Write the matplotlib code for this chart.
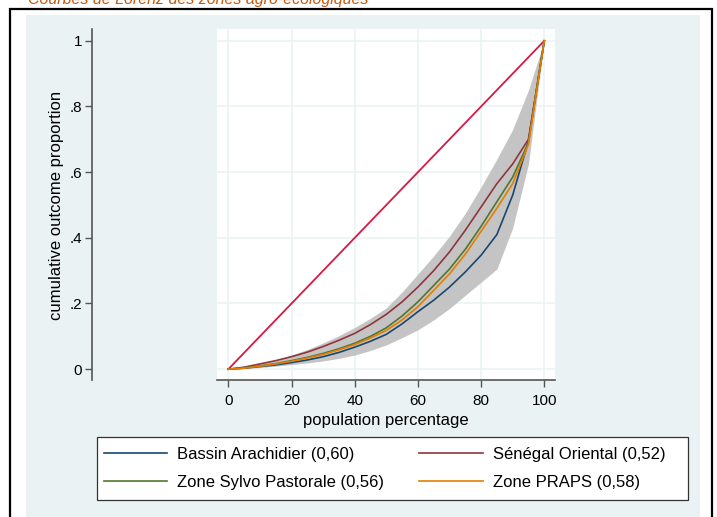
import matplotlib
matplotlib.use("Agg")
from matplotlib import pyplot as plt
from matplotlib.patches import Rectangle

plt.rcParams['font.family'] = ['Liberation Sans', 'DejaVu Sans']

# population share (%) at which each curve was read
pop = [0, 5, 10, 15, 20, 25, 30, 35, 40, 45, 50, 55, 60, 65, 70, 75, 80, 85, 90, 95, 100]

bassin = [0, 0.003, 0.008, 0.013, 0.020, 0.028, 0.038, 0.051, 0.067, 0.085, 0.106,
          0.138, 0.175, 0.210, 0.250, 0.296, 0.347, 0.410, 0.530, 0.695, 1.0]
senegal = [0, 0.006, 0.016, 0.026, 0.038, 0.052, 0.069, 0.088, 0.109, 0.136, 0.167,
           0.205, 0.250, 0.300, 0.357, 0.423, 0.494, 0.565, 0.625, 0.700, 1.0]
sylvo = [0, 0.004, 0.010, 0.017, 0.026, 0.036, 0.048, 0.062, 0.079, 0.100, 0.126,
         0.162, 0.205, 0.255, 0.305, 0.365, 0.435, 0.510, 0.585, 0.690, 1.0]
praps = [0, 0.003, 0.009, 0.016, 0.024, 0.034, 0.045, 0.059, 0.075, 0.095, 0.118,
         0.150, 0.190, 0.240, 0.290, 0.350, 0.420, 0.490, 0.565, 0.685, 1.0]
band_low = [0, 0.002, 0.005, 0.009, 0.014, 0.019, 0.025, 0.033, 0.043, 0.057, 0.074,
            0.096, 0.120, 0.150, 0.185, 0.225, 0.265, 0.305, 0.430, 0.625, 1.0]
band_high = [0, 0.006, 0.016, 0.028, 0.043, 0.060, 0.080, 0.102, 0.127, 0.155, 0.187,
             0.235, 0.290, 0.345, 0.405, 0.475, 0.555, 0.640, 0.730, 0.850, 1.0]

labels = ['Bassin Arachidier (0,60)', 'Sénégal Oriental (0,52)',
          'Zone Sylvo Pastorale (0,56)', 'Zone PRAPS (0,58)']
colors = ['#1a476f', '#90353b', '#55752f', '#e37e00']

W, H = 717, 517
fig = plt.figure(figsize=(W / 100, H / 100), dpi=100)
fig.patch.set_facecolor('white')

# outer frame + stata background
fig.patches.append(Rectangle((26 / W, -0.01), (700 - 26) / W, 1 - 15 / H + 0.01,
                             transform=fig.transFigure, facecolor='#eaf2f3', edgecolor='none', zorder=-2))
fig.patches.append(Rectangle((10 / W, -0.05), (712 - 10) / W, 1 - 9 / H + 0.05,
                             transform=fig.transFigure, facecolor='none', edgecolor='black', lw=1.6, zorder=-1))
fig.text(28 / W, 1 - 4 / H, "Courbes de Lorenz des zones agro-écologiques",
         color='#c55a11', fontsize=11.5, style='italic', ha='left', va='baseline')

ax = fig.add_axes([217 / W, 1 - 380 / H, 338 / W, 351 / H])
ax.set_facecolor('white')
ax.set_xlim(-3.6, 103.4)
ax.set_ylim(-0.033, 1.036)

ax.fill_between(pop, band_low, band_high, color='#c4c4c4', lw=0, zorder=2)
ax.plot([0, 100], [0, 1], color='#d41a45', lw=1.3, zorder=3)
series = [bassin, senegal, sylvo, praps]
handles = []
for ys, c, lab in zip(series, colors, labels):
    h, = ax.plot(pop, ys, color=c, lw=1.2, zorder=4, label=lab)
    handles.append(h)

ax.set_xticks([0, 20, 40, 60, 80, 100])
ax.set_yticks([0, 0.2, 0.4, 0.6, 0.8, 1])
ax.set_yticklabels(['0', '.2', '.4', '.6', '.8', '1'], rotation=90, va='center')
ax.grid(True, color='#eaf2f3', lw=1.1)
ax.set_axisbelow(True)

for s in ['top', 'right']:
    ax.spines[s].set_visible(False)
ax.spines['left'].set_position(('outward', 90))  # points -> ~125 px
for s in ['left', 'bottom']:
    ax.spines[s].set_color('#555555')
    ax.spines[s].set_linewidth(1.2)
ax.tick_params(axis='both', direction='out', length=5, width=1.0, color='#555555',
               labelsize=11, labelcolor='black', pad=2)
ax.tick_params(axis='x', pad=5)

fig.text(57 / W, 1 - 205 / H, 'cumulative outcome proportion', rotation=90,
         ha='center', va='center', fontsize=12)
fig.text(386 / W, 1 - 420 / H, 'population percentage', ha='center', va='center', fontsize=12)

# legend box drawn by hand, entries filled row by row like stata
fig.patches.append(Rectangle((97 / W, 1 - 500 / H), (688 - 97) / W, 63 / H,
                             transform=fig.transFigure, facecolor='white', edgecolor='#333333', lw=0.9, zorder=-1))
order = [0, 2, 1, 3]
leg = fig.legend(handles=[handles[i] for i in order], loc='center left', ncol=2,
                 bbox_to_anchor=(99 / W, 1 - 468.5 / H),
                 fontsize=12, frameon=False, handlelength=3.8,
                 handletextpad=0.6, borderpad=0.3, labelspacing=0.75, columnspacing=2.1, borderaxespad=0)

fig.savefig('out.png', dpi=100)
